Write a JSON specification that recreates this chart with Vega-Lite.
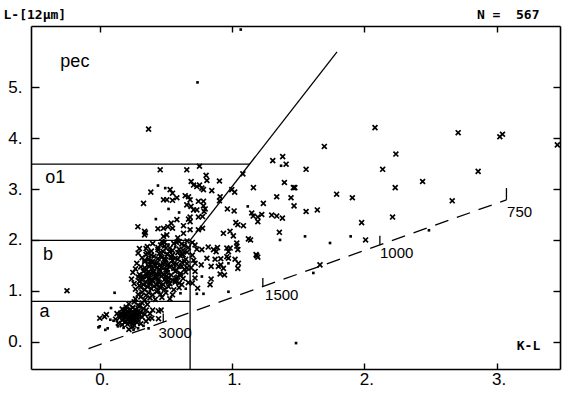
{
  "$schema": "https://vega.github.io/schema/vega-lite/v6.json",
  "width": 529,
  "height": 343,
  "autosize": "none",
  "padding": {"left": 31, "top": 26, "right": 10, "bottom": 26},
  "background": "white",
  "config": {
    "view": {"stroke": null},
    "axis": {
      "grid": false,
      "domainColor": "black",
      "domainWidth": 1.6,
      "tickColor": "black",
      "tickWidth": 1.4,
      "labelColor": "black",
      "labelFont": "Liberation Sans Narrow, Liberation Sans",
      "labelFontSize": 17,
      "titleColor": "black",
      "titleFont": "DejaVu Sans Mono",
      "titleFontWeight": "bold",
      "titleFontSize": 13
    }
  },
  "datasets": {
    "pts": [
      {"x":0.369,"y":4.18,"m":"x"},{"x":0.739,"y":5.10,"m":"d"},{"x":1.066,"y":6.14,"m":"d"},{"x":1.698,"y":3.84,"m":"x"},
      {"x":2.081,"y":4.21,"m":"x"},{"x":2.710,"y":4.11,"m":"x"},{"x":3.025,"y":4.03,"m":"x"},{"x":3.045,"y":4.08,"m":"x"},
      {"x":3.46,"y":3.87,"m":"x"},{"x":2.239,"y":3.69,"m":"x"},{"x":1.383,"y":3.64,"m":"x"},{"x":1.308,"y":3.56,"m":"x"},
      {"x":1.409,"y":3.49,"m":"x"},{"x":1.371,"y":3.46,"m":"d"},{"x":1.560,"y":3.39,"m":"x"},{"x":2.139,"y":3.39,"m":"x"},
      {"x":2.861,"y":3.35,"m":"x"},{"x":1.396,"y":3.13,"m":"x"},{"x":2.441,"y":3.15,"m":"x"},{"x":1.162,"y":3.03,"m":"x"},
      {"x":1.464,"y":3.03,"m":"x"},{"x":1.475,"y":3.03,"m":"x"},{"x":2.234,"y":3.03,"m":"x"},{"x":1.338,"y":2.85,"m":"x"},
      {"x":1.446,"y":2.83,"m":"x"},{"x":1.791,"y":2.90,"m":"x"},{"x":1.910,"y":2.83,"m":"x"},{"x":2.665,"y":2.77,"m":"x"},
      {"x":1.237,"y":2.72,"m":"x"},{"x":1.469,"y":2.67,"m":"x"},{"x":1.560,"y":2.56,"m":"x"},{"x":1.645,"y":2.59,"m":"x"},
      {"x":2.214,"y":2.45,"m":"x"},{"x":1.149,"y":2.53,"m":"x"},{"x":1.16,"y":2.47,"m":"x"},{"x":1.195,"y":2.45,"m":"x"},
      {"x":1.225,"y":2.50,"m":"x"},{"x":1.195,"y":2.36,"m":"x"},{"x":1.30,"y":2.49,"m":"x"},{"x":1.338,"y":2.47,"m":"x"},
      {"x":1.381,"y":2.43,"m":"x"},{"x":1.980,"y":2.34,"m":"x"},{"x":1.358,"y":2.15,"m":"x"},{"x":1.363,"y":2.00,"m":"d"},
      {"x":1.552,"y":2.07,"m":"d"},{"x":1.741,"y":1.94,"m":"d"},{"x":1.897,"y":2.07,"m":"d"},{"x":2.010,"y":2.00,"m":"x"},
      {"x":1.187,"y":1.69,"m":"x"},{"x":1.665,"y":1.51,"m":"x"},{"x":1.615,"y":1.35,"m":"d"},{"x":2.489,"y":2.19,"m":"d"},
      {"x":1.484,"y":-0.03,"m":"d"},{"x":-0.248,"y":1.0,"m":"x"},{"x":0.112,"y":0.96,"m":"d"},{"x":1.14,"y":2.0,"m":"x"},

      {"x":0.457,"y":3.38,"m":"x"},{"x":0.658,"y":3.38,"m":"x"},{"x":0.754,"y":3.45,"m":"x"},{"x":0.804,"y":3.27,"m":"x"},
      {"x":0.81,"y":3.17,"m":"x"},{"x":0.691,"y":3.15,"m":"x"},{"x":0.905,"y":3.16,"m":"x"},{"x":1.082,"y":3.30,"m":"x"},
      {"x":0.44,"y":3.07,"m":"d"},{"x":0.495,"y":3.02,"m":"d"},{"x":0.532,"y":2.99,"m":"x"},{"x":0.55,"y":2.92,"m":"x"},
      {"x":0.386,"y":2.94,"m":"x"},{"x":0.709,"y":3.08,"m":"x"},{"x":0.734,"y":3.05,"m":"x"},{"x":0.754,"y":3.08,"m":"x"},
      {"x":0.772,"y":3.02,"m":"x"},{"x":0.784,"y":2.99,"m":"x"},{"x":0.847,"y":2.97,"m":"x"},{"x":0.998,"y":2.99,"m":"x"},
      {"x":1.02,"y":2.94,"m":"x"},{"x":0.646,"y":2.87,"m":"x"},{"x":0.671,"y":2.85,"m":"x"},{"x":0.683,"y":2.79,"m":"x"},
      {"x":0.482,"y":2.79,"m":"x"},{"x":0.507,"y":2.79,"m":"x"},{"x":0.55,"y":2.78,"m":"x"},{"x":0.583,"y":2.83,"m":"x"},
      {"x":0.331,"y":2.72,"m":"x"},{"x":0.91,"y":2.85,"m":"x"},{"x":0.905,"y":2.77,"m":"x"},{"x":0.746,"y":2.76,"m":"x"},
      {"x":0.784,"y":2.76,"m":"x"},{"x":0.658,"y":2.69,"m":"x"},{"x":0.69,"y":2.66,"m":"x"},{"x":0.709,"y":2.59,"m":"x"},
      {"x":0.734,"y":2.59,"m":"x"},{"x":0.797,"y":2.61,"m":"x"},{"x":0.784,"y":2.67,"m":"x"},{"x":0.789,"y":2.56,"m":"x"},
      {"x":0.52,"y":2.61,"m":"d"},{"x":0.6,"y":2.54,"m":"d"},{"x":0.965,"y":2.61,"m":"x"},{"x":1.016,"y":2.57,"m":"x"},
      {"x":1.119,"y":2.66,"m":"d"},{"x":0.424,"y":2.41,"m":"d"},{"x":0.583,"y":2.40,"m":"x"},{"x":0.54,"y":2.33,"m":"x"},
      {"x":0.515,"y":2.26,"m":"x"},{"x":0.671,"y":2.41,"m":"x"},{"x":0.683,"y":2.45,"m":"x"},{"x":0.683,"y":2.36,"m":"x"},
      {"x":0.746,"y":2.45,"m":"x"},{"x":0.777,"y":2.46,"m":"x"},{"x":0.288,"y":2.26,"m":"x"},{"x":0.339,"y":2.17,"m":"x"},
      {"x":0.345,"y":2.14,"m":"x"},{"x":0.339,"y":2.10,"m":"x"},{"x":0.44,"y":2.22,"m":"x"},{"x":0.482,"y":2.23,"m":"x"},
      {"x":0.55,"y":2.23,"m":"x"},{"x":0.633,"y":2.28,"m":"x"},{"x":0.633,"y":2.13,"m":"x"},{"x":0.482,"y":2.07,"m":"x"},
      {"x":0.507,"y":2.10,"m":"x"},{"x":0.59,"y":2.04,"m":"x"},{"x":0.683,"y":2.20,"m":"x"},{"x":0.746,"y":2.20,"m":"x"},
      {"x":0.777,"y":2.23,"m":"x"},{"x":1.029,"y":2.34,"m":"x"},{"x":1.044,"y":2.30,"m":"x"},{"x":1.086,"y":2.28,"m":"x"},
      {"x":0.935,"y":2.13,"m":"x"},{"x":0.985,"y":2.17,"m":"x"},{"x":1.01,"y":2.08,"m":"x"},{"x":1.124,"y":2.02,"m":"x"},

      {"x":1.036,"y":1.94,"m":"x"},{"x":0.734,"y":1.82,"m":"x"},{"x":0.772,"y":1.81,"m":"x"},{"x":0.82,"y":1.86,"m":"x"},
      {"x":0.86,"y":1.81,"m":"x"},{"x":0.89,"y":1.85,"m":"x"},{"x":0.88,"y":1.77,"m":"x"},{"x":0.961,"y":1.84,"m":"x"},
      {"x":0.986,"y":1.84,"m":"x"},{"x":0.973,"y":1.77,"m":"x"},{"x":1.036,"y":1.88,"m":"x"},{"x":1.044,"y":1.81,"m":"x"},
      {"x":0.81,"y":1.64,"m":"x"},{"x":0.872,"y":1.62,"m":"x"},{"x":0.915,"y":1.63,"m":"x"},{"x":0.961,"y":1.67,"m":"x"},
      {"x":0.973,"y":1.64,"m":"x"},{"x":1.023,"y":1.62,"m":"x"},{"x":1.182,"y":1.71,"m":"x"},{"x":1.195,"y":1.66,"m":"x"},
      {"x":0.721,"y":1.54,"m":"x"},{"x":0.767,"y":1.51,"m":"x"},{"x":0.842,"y":1.48,"m":"x"},{"x":0.897,"y":1.48,"m":"x"},
      {"x":0.915,"y":1.51,"m":"x"},{"x":0.935,"y":1.44,"m":"x"},{"x":0.973,"y":1.54,"m":"d"},{"x":1.048,"y":1.54,"m":"x"},
      {"x":1.044,"y":1.44,"m":"x"},{"x":0.721,"y":1.38,"m":"x"},{"x":0.91,"y":1.33,"m":"x"},{"x":0.943,"y":1.31,"m":"x"},
      {"x":0.772,"y":1.28,"m":"d"},{"x":0.842,"y":1.23,"m":"x"},{"x":0.834,"y":1.12,"m":"x"},{"x":0.734,"y":0.94,"m":"d"},
      {"x":0.784,"y":0.94,"m":"d"},{"x":0.973,"y":0.98,"m":"d"},{"x":0.70,"y":1.70,"m":"x"},{"x":0.71,"y":1.60,"m":"x"},
      {"x":0.69,"y":1.45,"m":"x"},{"x":0.72,"y":1.25,"m":"x"},{"x":0.70,"y":1.15,"m":"x"},{"x":0.74,"y":1.05,"m":"x"},
      {"x":0.70,"y":1.95,"m":"x"},{"x":0.72,"y":1.90,"m":"x"},

      {"x":0.40,"y":1.93,"m":"x"},{"x":0.47,"y":1.97,"m":"x"},{"x":0.52,"y":1.91,"m":"d"},{"x":0.58,"y":1.95,"m":"x"},
      {"x":0.62,"y":1.92,"m":"x"},{"x":0.66,"y":1.98,"m":"x"},
      {"x":0.30,"y":1.83,"m":"x"},{"x":0.36,"y":1.87,"m":"x"},{"x":0.44,"y":1.81,"m":"x"},{"x":0.49,"y":1.88,"m":"x"},
      {"x":0.53,"y":1.84,"m":"x"},{"x":0.57,"y":1.86,"m":"d"},{"x":0.60,"y":1.82,"m":"x"},{"x":0.64,"y":1.89,"m":"x"},{"x":0.67,"y":1.85,"m":"x"},
      {"x":0.29,"y":1.74,"m":"x"},{"x":0.35,"y":1.71,"m":"x"},{"x":0.39,"y":1.78,"m":"x"},{"x":0.45,"y":1.73,"m":"x"},
      {"x":0.48,"y":1.77,"m":"x"},{"x":0.51,"y":1.72,"m":"x"},{"x":0.55,"y":1.79,"m":"x"},{"x":0.59,"y":1.75,"m":"x"},
      {"x":0.63,"y":1.71,"m":"x"},{"x":0.66,"y":1.76,"m":"x"},
      {"x":0.32,"y":1.65,"m":"x"},{"x":0.37,"y":1.62,"m":"x"},{"x":0.41,"y":1.68,"m":"x"},{"x":0.44,"y":1.63,"m":"x"},
      {"x":0.47,"y":1.66,"m":"x"},{"x":0.50,"y":1.61,"m":"x"},{"x":0.54,"y":1.67,"m":"x"},{"x":0.57,"y":1.64,"m":"x"},
      {"x":0.61,"y":1.69,"m":"x"},{"x":0.65,"y":1.62,"m":"x"},
      {"x":0.28,"y":1.54,"m":"x"},{"x":0.34,"y":1.57,"m":"x"},{"x":0.38,"y":1.52,"m":"x"},{"x":0.40,"y":1.58,"m":"x"},
      {"x":0.43,"y":1.55,"m":"x"},{"x":0.46,"y":1.51,"m":"x"},{"x":0.49,"y":1.56,"m":"x"},{"x":0.52,"y":1.53,"m":"x"},
      {"x":0.55,"y":1.59,"m":"x"},{"x":0.58,"y":1.52,"m":"x"},{"x":0.62,"y":1.56,"m":"x"},{"x":0.66,"y":1.53,"m":"x"},
      {"x":0.27,"y":1.43,"m":"x"},{"x":0.31,"y":1.47,"m":"x"},{"x":0.35,"y":1.41,"m":"x"},{"x":0.37,"y":1.48,"m":"x"},
      {"x":0.40,"y":1.44,"m":"x"},{"x":0.42,"y":1.49,"m":"x"},{"x":0.45,"y":1.42,"m":"x"},{"x":0.47,"y":1.46,"m":"x"},
      {"x":0.50,"y":1.41,"m":"x"},{"x":0.53,"y":1.47,"m":"x"},{"x":0.56,"y":1.44,"m":"x"},{"x":0.60,"y":1.48,"m":"x"},{"x":0.64,"y":1.42,"m":"x"},
      {"x":0.25,"y":1.36,"m":"x"},{"x":0.30,"y":1.32,"m":"x"},{"x":0.33,"y":1.38,"m":"x"},{"x":0.36,"y":1.34,"m":"x"},
      {"x":0.38,"y":1.31,"m":"x"},{"x":0.41,"y":1.37,"m":"x"},{"x":0.43,"y":1.33,"m":"x"},{"x":0.46,"y":1.39,"m":"x"},
      {"x":0.48,"y":1.32,"m":"x"},{"x":0.51,"y":1.36,"m":"x"},{"x":0.54,"y":1.31,"m":"x"},{"x":0.57,"y":1.38,"m":"x"},
      {"x":0.61,"y":1.34,"m":"x"},{"x":0.65,"y":1.37,"m":"x"},
      {"x":0.24,"y":1.23,"m":"x"},{"x":0.29,"y":1.27,"m":"x"},{"x":0.32,"y":1.21,"m":"x"},{"x":0.35,"y":1.28,"m":"x"},
      {"x":0.37,"y":1.24,"m":"x"},{"x":0.40,"y":1.21,"m":"x"},{"x":0.42,"y":1.27,"m":"x"},{"x":0.44,"y":1.23,"m":"x"},
      {"x":0.47,"y":1.29,"m":"x"},{"x":0.49,"y":1.22,"m":"x"},{"x":0.52,"y":1.26,"m":"x"},{"x":0.55,"y":1.21,"m":"x"},
      {"x":0.59,"y":1.27,"m":"x"},{"x":0.63,"y":1.24,"m":"x"},
      {"x":0.26,"y":1.14,"m":"x"},{"x":0.30,"y":1.18,"m":"x"},{"x":0.33,"y":1.12,"m":"x"},{"x":0.35,"y":1.17,"m":"x"},
      {"x":0.38,"y":1.13,"m":"x"},{"x":0.40,"y":1.19,"m":"x"},{"x":0.43,"y":1.11,"m":"x"},{"x":0.45,"y":1.16,"m":"x"},
      {"x":0.48,"y":1.12,"m":"x"},{"x":0.50,"y":1.18,"m":"x"},{"x":0.53,"y":1.14,"m":"x"},{"x":0.57,"y":1.17,"m":"x"},
      {"x":0.62,"y":1.12,"m":"x"},{"x":0.67,"y":1.16,"m":"x"},
      {"x":0.27,"y":1.03,"m":"x"},{"x":0.31,"y":1.07,"m":"x"},{"x":0.34,"y":1.02,"m":"x"},{"x":0.36,"y":1.08,"m":"x"},
      {"x":0.39,"y":1.04,"m":"x"},{"x":0.41,"y":1.09,"m":"x"},{"x":0.44,"y":1.01,"m":"x"},{"x":0.46,"y":1.06,"m":"x"},
      {"x":0.49,"y":1.03,"m":"x"},{"x":0.52,"y":1.08,"m":"x"},{"x":0.56,"y":1.02,"m":"x"},{"x":0.60,"y":1.06,"m":"x"},{"x":0.65,"y":1.04,"m":"d"},
      {"x":0.29,"y":0.93,"m":"x"},{"x":0.32,"y":0.97,"m":"x"},{"x":0.35,"y":0.91,"m":"x"},{"x":0.37,"y":0.96,"m":"x"},
      {"x":0.40,"y":0.92,"m":"x"},{"x":0.43,"y":0.98,"m":"x"},{"x":0.46,"y":0.93,"m":"x"},{"x":0.50,"y":0.96,"m":"x"},
      {"x":0.55,"y":0.92,"m":"x"},{"x":0.61,"y":0.95,"m":"d"},
      {"x":0.27,"y":0.84,"m":"x"},{"x":0.31,"y":0.88,"m":"x"},{"x":0.34,"y":0.82,"m":"x"},{"x":0.38,"y":0.86,"m":"x"},
      {"x":0.42,"y":0.83,"m":"x"},{"x":0.47,"y":0.87,"m":"x"},{"x":0.53,"y":0.84,"m":"x"},

      {"x":0.34,"y":1.45,"m":"x"},{"x":0.56,"y":1.52,"m":"x"},{"x":0.39,"y":1.70,"m":"x"},{"x":0.61,"y":1.30,"m":"x"},
      {"x":0.44,"y":1.85,"m":"x"},{"x":0.58,"y":1.25,"m":"x"},{"x":0.49,"y":1.63,"m":"x"},{"x":0.51,"y":1.50,"m":"x"},
      {"x":0.53,"y":1.78,"m":"x"},{"x":0.38,"y":1.17,"m":"x"},{"x":0.60,"y":1.15,"m":"x"},{"x":0.45,"y":1.08,"m":"x"},
      {"x":0.57,"y":1.20,"m":"x"},{"x":0.50,"y":1.28,"m":"x"},{"x":0.31,"y":1.26,"m":"x"},{"x":0.39,"y":1.33,"m":"x"},
      {"x":0.43,"y":1.45,"m":"x"},{"x":0.48,"y":1.53,"m":"x"},{"x":0.30,"y":1.10,"m":"x"},{"x":0.34,"y":1.60,"m":"x"},
      {"x":0.37,"y":1.38,"m":"x"},{"x":0.64,"y":1.58,"m":"x"},{"x":0.45,"y":1.32,"m":"x"},{"x":0.52,"y":1.19,"m":"x"},
      {"x":0.54,"y":1.65,"m":"x"},{"x":0.33,"y":1.28,"m":"x"},{"x":0.41,"y":1.52,"m":"x"},{"x":0.62,"y":1.72,"m":"x"},
      {"x":0.44,"y":1.18,"m":"x"},{"x":0.39,"y":1.22,"m":"x"},{"x":0.36,"y":1.74,"m":"x"},{"x":0.49,"y":1.95,"m":"x"},
      {"x":0.43,"y":1.27,"m":"x"},{"x":0.46,"y":1.68,"m":"x"},{"x":0.38,"y":1.57,"m":"x"},{"x":0.40,"y":1.36,"m":"x"},
      {"x":0.58,"y":1.40,"m":"x"},{"x":0.35,"y":1.83,"m":"x"},{"x":0.66,"y":1.45,"m":"x"},{"x":0.51,"y":1.42,"m":"x"},
      {"x":0.56,"y":1.93,"m":"x"},{"x":0.60,"y":1.97,"m":"x"},{"x":0.50,"y":1.84,"m":"x"},{"x":0.63,"y":1.80,"m":"x"},
      {"x":0.46,"y":1.90,"m":"x"},{"x":0.55,"y":1.70,"m":"x"},{"x":0.59,"y":1.62,"m":"x"},{"x":0.62,"y":1.48,"m":"x"},

      {"x":0.22,"y":0.74,"m":"x"},{"x":0.26,"y":0.78,"m":"x"},{"x":0.29,"y":0.72,"m":"x"},{"x":0.32,"y":0.76,"m":"x"},{"x":0.36,"y":0.73,"m":"x"},
      {"x":0.17,"y":0.64,"m":"x"},{"x":0.20,"y":0.68,"m":"x"},{"x":0.23,"y":0.62,"m":"x"},{"x":0.25,"y":0.67,"m":"x"},
      {"x":0.27,"y":0.63,"m":"x"},{"x":0.30,"y":0.69,"m":"x"},{"x":0.33,"y":0.65,"m":"x"},
      {"x":0.13,"y":0.55,"m":"x"},{"x":0.16,"y":0.52,"m":"x"},{"x":0.18,"y":0.58,"m":"x"},{"x":0.20,"y":0.54,"m":"x"},
      {"x":0.22,"y":0.57,"m":"x"},{"x":0.24,"y":0.51,"m":"x"},{"x":0.26,"y":0.56,"m":"x"},{"x":0.28,"y":0.53,"m":"x"},
      {"x":0.31,"y":0.58,"m":"x"},{"x":0.34,"y":0.54,"m":"x"},
      {"x":0.12,"y":0.44,"m":"x"},{"x":0.15,"y":0.47,"m":"x"},{"x":0.17,"y":0.42,"m":"x"},{"x":0.19,"y":0.48,"m":"x"},
      {"x":0.21,"y":0.43,"m":"x"},{"x":0.23,"y":0.46,"m":"x"},{"x":0.25,"y":0.41,"m":"x"},{"x":0.27,"y":0.47,"m":"x"},
      {"x":0.29,"y":0.44,"m":"x"},{"x":0.32,"y":0.48,"m":"x"},
      {"x":0.14,"y":0.36,"m":"x"},{"x":0.17,"y":0.33,"m":"x"},{"x":0.19,"y":0.38,"m":"x"},{"x":0.21,"y":0.34,"m":"x"},
      {"x":0.23,"y":0.37,"m":"x"},{"x":0.26,"y":0.32,"m":"x"},{"x":0.28,"y":0.38,"m":"x"},{"x":0.31,"y":0.35,"m":"x"},
      {"x":0.18,"y":0.27,"m":"d"},{"x":0.22,"y":0.24,"m":"x"},{"x":0.25,"y":0.29,"m":"x"},{"x":0.29,"y":0.26,"m":"d"},
      {"x":0.19,"y":0.52,"m":"x"},{"x":0.21,"y":0.60,"m":"x"},{"x":0.24,"y":0.55,"m":"x"},{"x":0.22,"y":0.49,"m":"x"},
      {"x":0.26,"y":0.51,"m":"x"},{"x":0.18,"y":0.45,"m":"x"},{"x":0.20,"y":0.40,"m":"x"},{"x":0.24,"y":0.43,"m":"x"},
      {"x":0.27,"y":0.58,"m":"x"},{"x":0.23,"y":0.64,"m":"x"},{"x":0.16,"y":0.56,"m":"x"},{"x":0.28,"y":0.49,"m":"x"},
      {"x":0.25,"y":0.36,"m":"x"},{"x":0.21,"y":0.53,"m":"x"},{"x":0.30,"y":0.52,"m":"x"},{"x":0.19,"y":0.62,"m":"x"},
      {"x":0.26,"y":0.45,"m":"x"},{"x":0.23,"y":0.40,"m":"x"},{"x":0.17,"y":0.50,"m":"x"},{"x":0.29,"y":0.60,"m":"x"},
      {"x":0.0,"y":0.30,"m":"d"},{"x":0.06,"y":0.26,"m":"d"},{"x":0.0,"y":0.46,"m":"x"},{"x":0.05,"y":0.53,"m":"x"},
      {"x":0.08,"y":0.43,"m":"d"},{"x":-0.01,"y":0.28,"m":"d"},{"x":0.036,"y":0.49,"m":"x"},{"x":0.085,"y":0.66,"m":"d"},
      {"x":0.104,"y":0.41,"m":"d"},{"x":0.042,"y":0.23,"m":"d"},{"x":0.137,"y":0.30,"m":"d"},{"x":0.243,"y":0.28,"m":"d"},
      {"x":0.255,"y":0.23,"m":"d"},{"x":0.351,"y":0.62,"m":"x"},{"x":0.40,"y":0.62,"m":"x"},{"x":0.444,"y":0.60,"m":"x"},
      {"x":0.464,"y":0.62,"m":"x"},{"x":0.444,"y":0.45,"m":"x"},{"x":0.369,"y":0.45,"m":"x"},{"x":0.394,"y":0.46,"m":"x"},
      {"x":0.331,"y":0.31,"m":"d"},{"x":0.369,"y":0.26,"m":"d"},{"x":0.38,"y":0.55,"m":"x"},{"x":0.35,"y":0.40,"m":"x"}
    ],
    "segs": [
      {"x":0.683,"y":-0.54,"x2":0.683,"y2":1.99},
      {"x":-0.52,"y":0.79,"x2":0.683,"y2":0.79},
      {"x":-0.52,"y":1.99,"x2":0.683,"y2":1.99},
      {"x":-0.52,"y":3.49,"x2":1.135,"y2":3.49},
      {"x":0.683,"y":1.99,"x2":1.794,"y2":5.70},
      {"x":0.48,"y":0.384,"x2":0.48,"y2":0.55},
      {"x":1.233,"y":1.08,"x2":1.233,"y2":1.25},
      {"x":2.118,"y":1.90,"x2":2.118,"y2":2.08},
      {"x":3.075,"y":2.79,"x2":3.075,"y2":3.02}
    ],
    "dash": [
      {"x":-0.085,"y":-0.14,"x2":3.075,"y2":2.79}
    ],
    "regions": [
      {"x":-0.298,"y":5.41,"t":"pec"},
      {"x":-0.412,"y":3.12,"t":"o1"},
      {"x":-0.429,"y":1.61,"t":"b"},
      {"x":-0.455,"y":0.49,"t":"a"}
    ],
    "temps": [
      {"x":0.444,"y":0.067,"t":"3000"},
      {"x":1.25,"y":0.82,"t":"1500"},
      {"x":2.119,"y":1.64,"t":"1000"},
      {"x":3.08,"y":2.46,"t":"750"}
    ]
  },
  "layer": [
    {
      "data": {"name": "pts"},
      "transform": [{"filter": "datum.m === 'x'"}],
      "mark": {"type": "point", "shape": "M-1,-1L1,1M-1,1L1,-1", "size": 24, "filled": false, "stroke": "black", "strokeWidth": 1.7, "opacity": 1},
      "encoding": {
        "x": {"field": "x", "type": "quantitative",
              "scale": {"domain": [-0.52, 3.48], "nice": false, "zero": false},
              "axis": {"orient": "bottom", "values": [0, 1, 2, 3], "labelExpr": "datum.value + '.'",
                       "tickSize": -6, "labelPadding": 8, "labelOffset": 2,
                       "title": "K-L", "titleX": 497, "titleY": -20, "titleAlign": "center", "titleBaseline": "alphabetic"}},
        "y": {"field": "y", "type": "quantitative",
              "scale": {"domain": [-0.54, 6.21], "nice": false, "zero": false},
              "axis": {"orient": "left", "values": [0, 1, 2, 3, 4, 5], "labelExpr": "datum.value + '.'",
                       "tickSize": -8, "labelPadding": 17,
                       "title": "L-[12µm]", "titleAngle": 0, "titleX": -28, "titleY": -7.5, "titleAlign": "left", "titleBaseline": "alphabetic"}}
      }
    },
    {
      "data": {"name": "pts"},
      "transform": [{"filter": "datum.m === 'd'"}],
      "mark": {"type": "square", "size": 7, "color": "black", "filled": true, "opacity": 1},
      "encoding": {
        "x": {"field": "x", "type": "quantitative", "scale": {"domain": [-0.52, 3.48], "nice": false, "zero": false}, "axis": null},
        "y": {"field": "y", "type": "quantitative", "scale": {"domain": [-0.54, 6.21], "nice": false, "zero": false}, "axis": null}
      }
    },
    {
      "data": {"name": "segs"},
      "mark": {"type": "rule", "color": "black", "strokeWidth": 1.3},
      "encoding": {
        "x": {"field": "x", "type": "quantitative", "scale": {"domain": [-0.52, 3.48], "nice": false, "zero": false},
              "axis": {"orient": "top", "values": [0, 1, 2, 3], "labels": false, "tickSize": -6,
                       "title": "N\u00a0=\u00a0\u00a0567", "titleX": 508, "titleY": -7.7, "titleAlign": "right", "titleBaseline": "alphabetic"}},
        "y": {"field": "y", "type": "quantitative", "scale": {"domain": [-0.54, 6.21], "nice": false, "zero": false},
              "axis": {"orient": "right", "values": [0, 1, 2, 3, 4, 5], "labels": false, "tickSize": -7, "title": null}},
        "x2": {"field": "x2"},
        "y2": {"field": "y2"}
      }
    },
    {
      "data": {"name": "dash"},
      "mark": {"type": "rule", "color": "black", "strokeWidth": 1.3, "strokeDash": [14, 9]},
      "encoding": {
        "x": {"field": "x", "type": "quantitative", "scale": {"domain": [-0.52, 3.48], "nice": false, "zero": false}, "axis": null},
        "y": {"field": "y", "type": "quantitative", "scale": {"domain": [-0.54, 6.21], "nice": false, "zero": false}, "axis": null},
        "x2": {"field": "x2"},
        "y2": {"field": "y2"}
      }
    },
    {
      "data": {"name": "regions"},
      "mark": {"type": "text", "font": "Liberation Sans", "fontSize": 18, "align": "left", "baseline": "alphabetic", "color": "black"},
      "encoding": {
        "x": {"field": "x", "type": "quantitative", "scale": {"domain": [-0.52, 3.48], "nice": false, "zero": false}, "axis": null},
        "y": {"field": "y", "type": "quantitative", "scale": {"domain": [-0.54, 6.21], "nice": false, "zero": false}, "axis": null},
        "text": {"field": "t"}
      }
    },
    {
      "data": {"name": "temps"},
      "mark": {"type": "text", "font": "Liberation Sans Narrow, Liberation Sans", "fontSize": 15, "align": "left", "baseline": "alphabetic", "color": "black"},
      "encoding": {
        "x": {"field": "x", "type": "quantitative", "scale": {"domain": [-0.52, 3.48], "nice": false, "zero": false}, "axis": null},
        "y": {"field": "y", "type": "quantitative", "scale": {"domain": [-0.54, 6.21], "nice": false, "zero": false}, "axis": null},
        "text": {"field": "t"}
      }
    }
  ],
  "resolve": {"axis": {"x": "independent", "y": "independent"}}
}
